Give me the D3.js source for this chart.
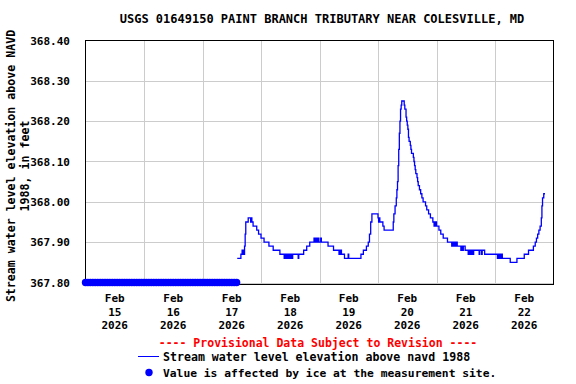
<!DOCTYPE html>
<html>
<head>
<meta charset="utf-8">
<script src="https://cdn.jsdelivr.net/npm/d3@7"></script>
<style>
  html, body { margin: 0; padding: 0; background: #fff; }
  svg { display: block; }
  text { font-family: "DejaVu Sans Mono", monospace; font-weight: bold; }
</style>
</head>
<body>
<svg id="chart" width="576" height="384"></svg>
<script>
// ---------------- DATA ----------------
const title = "USGS 01649150 PAINT BRANCH TRIBUTARY NEAR COLESVILLE, MD";
const yAxisTitle = ["Stream water level elevation above NAVD", "1988, in feet"];
const yTickValues = [367.80, 367.90, 368.00, 368.10, 368.20, 368.30, 368.40];
const xTickDays = ["2026-02-15", "2026-02-16", "2026-02-17", "2026-02-18", "2026-02-19", "2026-02-20", "2026-02-21", "2026-02-22"];
const xTickLabels = [["Feb","15","2026"],["Feb","16","2026"],["Feb","17","2026"],["Feb","18","2026"],["Feb","19","2026"],["Feb","20","2026"],["Feb","21","2026"],["Feb","22","2026"]];
const provisionalText = "---- Provisional Data Subject to Revision ----";
const legendLineText = "Stream water level elevation above navd 1988";
const legendIceText = "Value is affected by ice at the measurement site.";

// ice-affected values: hours after 2026-02-15 00:00, value 367.80
const iceHours = [0,1,2,3,4,5,6,7,8,9,10,11,12,13,14,15,16,17,18,19,20,21,22,23,24,25,26,27,28,29,30,31,32,33,34,35,36,37,38,39,40,41,42,43,44,45,46,47,48,49,50,51,52,53,54,55,56,57,58,59,60,61,62];
const iceValue = 367.80;

// stream water level (step changes, 15-min data)
const levelTimes = [
 "2026-02-17T14:15","2026-02-17T15:45","2026-02-17T16:15","2026-02-17T16:30","2026-02-17T16:45","2026-02-17T17:00",
 "2026-02-17T17:15","2026-02-17T17:30","2026-02-17T17:45","2026-02-17T18:45","2026-02-17T19:45","2026-02-17T20:00",
 "2026-02-17T20:15","2026-02-17T20:45","2026-02-17T22:15","2026-02-17T23:00",
 "2026-02-18T00:00","2026-02-18T01:15","2026-02-18T03:15","2026-02-18T05:00","2026-02-18T07:45","2026-02-18T09:30",
 "2026-02-18T09:45","2026-02-18T10:15","2026-02-18T10:30","2026-02-18T11:00","2026-02-18T11:15","2026-02-18T11:30",
 "2026-02-18T11:45","2026-02-18T12:00","2026-02-18T12:30","2026-02-18T12:45","2026-02-18T13:00","2026-02-18T15:15",
 "2026-02-18T15:30","2026-02-18T17:30","2026-02-18T18:45","2026-02-18T20:00","2026-02-18T21:45","2026-02-18T22:00",
 "2026-02-18T22:15","2026-02-18T22:30","2026-02-18T22:45","2026-02-18T23:15","2026-02-18T23:30","2026-02-18T23:45",
 "2026-02-19T00:30","2026-02-19T00:45","2026-02-19T03:30","2026-02-19T05:45","2026-02-19T08:00","2026-02-19T08:15",
 "2026-02-19T08:30","2026-02-19T08:45","2026-02-19T09:00","2026-02-19T10:15","2026-02-19T11:45","2026-02-19T12:00",
 "2026-02-19T17:00","2026-02-19T18:00","2026-02-19T19:15","2026-02-19T20:00","2026-02-19T20:30","2026-02-19T21:00",
 "2026-02-19T21:30",
 "2026-02-20T00:00","2026-02-20T00:15","2026-02-20T00:30","2026-02-20T00:45","2026-02-20T02:00","2026-02-20T02:30",
 "2026-02-20T06:15","2026-02-20T06:30","2026-02-20T07:00","2026-02-20T07:30","2026-02-20T07:45","2026-02-20T08:00",
 "2026-02-20T08:15","2026-02-20T08:30","2026-02-20T08:45","2026-02-20T09:00","2026-02-20T09:15","2026-02-20T09:30",
 "2026-02-20T09:45","2026-02-20T10:45","2026-02-20T11:00","2026-02-20T11:30","2026-02-20T11:45","2026-02-20T12:00",
 "2026-02-20T12:15","2026-02-20T12:30","2026-02-20T12:45","2026-02-20T13:15","2026-02-20T13:30","2026-02-20T13:45",
 "2026-02-20T14:30","2026-02-20T14:45","2026-02-20T15:00","2026-02-20T15:15","2026-02-20T15:30","2026-02-20T16:00",
 "2026-02-20T16:15","2026-02-20T16:30","2026-02-20T17:00","2026-02-20T17:30","2026-02-20T18:00","2026-02-20T18:30",
 "2026-02-20T19:30","2026-02-20T20:00","2026-02-20T20:45","2026-02-20T21:30","2026-02-20T22:30","2026-02-20T23:00",
 "2026-02-20T23:15","2026-02-20T23:30","2026-02-20T23:45",
 "2026-02-21T00:00","2026-02-21T01:00","2026-02-21T01:45","2026-02-21T02:45","2026-02-21T04:30","2026-02-21T06:15",
 "2026-02-21T06:30","2026-02-21T06:45","2026-02-21T07:00","2026-02-21T07:30","2026-02-21T07:45","2026-02-21T08:00",
 "2026-02-21T08:15","2026-02-21T08:30","2026-02-21T10:00","2026-02-21T10:15","2026-02-21T10:45","2026-02-21T11:00",
 "2026-02-21T11:45","2026-02-21T13:00","2026-02-21T13:15","2026-02-21T13:30","2026-02-21T14:00","2026-02-21T14:15",
 "2026-02-21T14:30","2026-02-21T15:00","2026-02-21T15:15","2026-02-21T16:00","2026-02-21T17:30","2026-02-21T17:45",
 "2026-02-21T18:30","2026-02-21T18:45","2026-02-21T19:45",
 "2026-02-22T01:00","2026-02-22T01:15","2026-02-22T01:30","2026-02-22T01:45","2026-02-22T02:15","2026-02-22T02:30",
 "2026-02-22T03:00","2026-02-22T06:15","2026-02-22T09:00","2026-02-22T12:00","2026-02-22T13:45","2026-02-22T15:45",
 "2026-02-22T16:30","2026-02-22T17:00","2026-02-22T17:30","2026-02-22T18:00","2026-02-22T18:30","2026-02-22T19:00",
 "2026-02-22T19:15","2026-02-22T19:30","2026-02-22T20:00","2026-02-22T20:30"
];
const levelValues = [
 367.86,367.87,367.88,367.87,367.88,367.87,
 367.89,367.92,367.95,367.96,367.95,367.96,
 367.95,367.94,367.93,367.92,
 367.91,367.90,367.89,367.88,367.87,367.86,
 367.87,367.86,367.87,367.86,367.87,367.86,
 367.87,367.86,367.87,367.86,367.87,367.86,
 367.87,367.88,367.89,367.90,367.91,367.90,
 367.91,367.90,367.91,367.90,367.91,367.90,
 367.91,367.90,367.89,367.88,367.87,367.88,
 367.87,367.88,367.87,367.86,367.87,367.86,
 367.87,367.88,367.89,367.90,367.92,367.95,
 367.97,
 367.96,367.95,367.96,367.95,367.94,367.93,
 367.95,367.97,367.99,368.01,368.03,368.05,
 368.09,368.13,368.17,368.20,368.23,368.24,
 368.25,368.24,368.23,368.21,368.20,368.19,
 368.18,368.16,368.15,368.14,368.13,368.12,
 368.11,368.10,368.09,368.08,368.07,368.06,
 368.05,368.04,368.03,368.02,368.01,368.00,
 367.99,367.98,367.97,367.96,367.95,367.94,
 367.95,367.94,367.95,
 367.94,367.93,367.92,367.91,367.90,367.89,
 367.90,367.89,367.90,367.89,367.90,367.89,
 367.90,367.89,367.88,367.89,367.88,367.89,
 367.88,367.87,367.88,367.87,367.88,367.87,
 367.88,367.87,367.88,367.88,367.87,367.88,
 367.87,367.88,367.87,
 367.86,367.87,367.86,367.87,367.86,367.87,
 367.86,367.85,367.86,367.87,367.88,367.89,
 367.90,367.91,367.92,367.93,367.94,367.96,
 367.99,368.01,368.02,368.02
];

// ---------------- LAYOUT ----------------
const plot = { left: 85.5, right: 553.5, top: 40.5, bottom: 284.5 };
const blue = "#0000ff";
const gridColor = "#cccccc";

const svg = d3.select("#chart");
const parse = d3.timeParse("%Y-%m-%dT%H:%M");
const parseDay = d3.timeParse("%Y-%m-%d");
const startDate = parseDay("2026-02-15");
const endDate = parseDay("2026-02-23");

const x = d3.scaleTime().domain([startDate, endDate]).range([plot.left, plot.right]);
const y = d3.scaleLinear().domain([367.80, 368.40]).range([282.5, 40.5]);

const px = v => Math.round(v) + 0.5;

// grid lines (horizontal)
svg.append("g").selectAll("line").data(yTickValues.slice(0, -1)).join("line")
  .attr("x1", plot.left).attr("x2", plot.right)
  .attr("y1", d => px(y(d))).attr("y2", d => px(y(d)))
  .attr("stroke", gridColor).attr("stroke-width", 1);

// grid lines (vertical, at midnight)
const midnights = xTickDays.slice(1).map(parseDay);
svg.append("g").selectAll("line").data(midnights).join("line")
  .attr("x1", d => px(x(d))).attr("x2", d => px(x(d)))
  .attr("y1", plot.top).attr("y2", plot.bottom)
  .attr("stroke", gridColor).attr("stroke-width", 1);

// frame
svg.append("rect")
  .attr("x", plot.left).attr("y", plot.top)
  .attr("width", plot.right - plot.left).attr("height", plot.bottom - plot.top)
  .attr("fill", "none").attr("stroke", "#000").attr("stroke-width", 1);

// y tick labels
svg.append("g").selectAll("text").data(yTickValues).join("text")
  .attr("x", 70).attr("y", d => y(d) + 4)
  .attr("text-anchor", "end").attr("font-size", "11px")
  .text(d => d3.format(".2f")(d));

// x tick labels (centered on noon of each day)
const xLab = svg.append("g").selectAll("text").data(xTickDays).join("text")
  .attr("text-anchor", "middle").attr("font-size", "11px")
  .attr("transform", d => `translate(${x(d3.timeHour.offset(parseDay(d), 12))},0)`);
xLab.each(function(d, i) {
  const t = d3.select(this);
  xTickLabels[i].forEach((s, j) => {
    t.append("tspan").attr("x", 0).attr("y", 302 + j * 13.5).text(s);
  });
});

// title
svg.append("text").attr("x", 322).attr("y", 23).attr("text-anchor", "middle")
  .attr("font-size", "12px").text(title);

// y axis title
const yt = svg.append("text").attr("text-anchor", "middle").attr("font-size", "11.6px")
  .attr("transform", "translate(0,166) rotate(-90)");
yt.append("tspan").attr("x", 0).attr("y", 15).text(yAxisTitle[0]);
yt.append("tspan").attr("x", 0).attr("y", 29).text(yAxisTitle[1]);

// level line
const levelData = levelTimes.map((t, i) => ({ t: parse(t), v: levelValues[i] }));
const line = d3.line().x(d => x(d.t)).y(d => y(d.v)).curve(d3.curveStepAfter);
svg.append("path").datum(levelData)
  .attr("d", line).attr("fill", "none").attr("stroke", blue).attr("stroke-width", 1.3);

// ice points
svg.append("g").selectAll("circle").data(iceHours).join("circle")
  .attr("cx", d => x(d3.timeHour.offset(startDate, d)))
  .attr("cy", y(iceValue))
  .attr("r", 3.7).attr("fill", blue);

// legend
svg.append("text").attr("x", 318).attr("y", 347).attr("text-anchor", "middle")
  .attr("font-size", "11.5px").attr("fill", "#ff0000").text(provisionalText);
svg.append("line").attr("x1", 138).attr("x2", 159).attr("y1", 356.5).attr("y2", 356.5)
  .attr("stroke", blue).attr("stroke-width", 1);
svg.append("text").attr("x", 163).attr("y", 361).attr("font-size", "11.6px").text(legendLineText);
svg.append("circle").attr("cx", 149).attr("cy", 372.5).attr("r", 3.7).attr("fill", blue);
svg.append("text").attr("x", 163).attr("y", 377).attr("font-size", "11.3px").text(legendIceText);
</script>
</body>
</html>
